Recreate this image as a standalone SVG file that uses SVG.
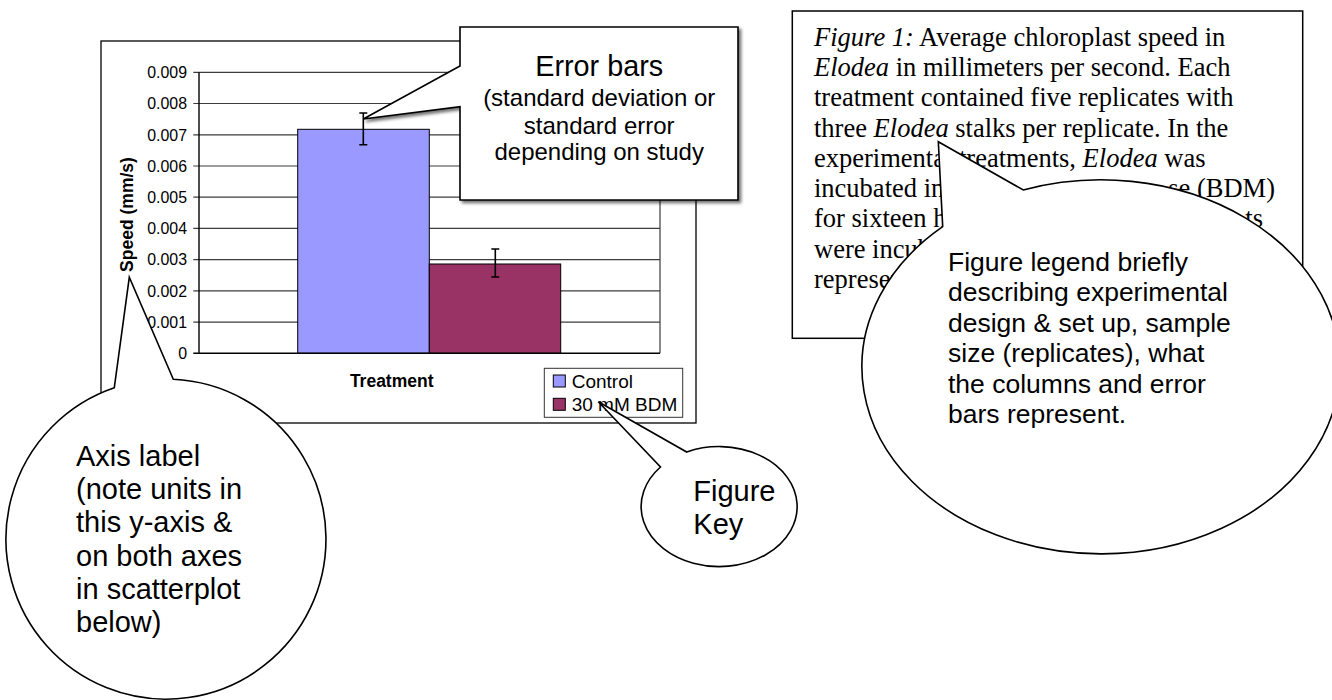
<svg xmlns="http://www.w3.org/2000/svg" width="1332" height="700" viewBox="0 0 1332 700">
<defs>
<style>
.sans{font-family:"Liberation Sans",Arial,sans-serif;fill:#000}
.serif{font-family:"Liberation Serif","Times New Roman",serif;fill:#000;font-size:26.5px}
.tick{font-size:15.9px;text-anchor:end}
.axis-title{font-size:17.5px;font-weight:bold}
.legend-text{font-size:19px}
.grid{stroke:#3c3c3c;stroke-width:1.2}
.err{stroke:#000;stroke-width:1.6;fill:none}
.bubble{fill:#fff;stroke:#000;stroke-width:1.6;stroke-linejoin:miter}
.note{font-size:29px}
.legend-note{font-size:26.5px}
</style>
<filter id="shadow" x="-10%" y="-10%" width="130%" height="130%">
<feDropShadow dx="2.5" dy="2.5" stdDeviation="1.8" flood-color="#000" flood-opacity="0.55"/>
</filter>
</defs>
<rect width="1332" height="700" fill="#fff"/>

<!-- bar chart -->
<g id="chart">
<rect x="101" y="41" width="595" height="382" fill="#fff" stroke="#000" stroke-width="1.3"/>
<g class="grid">
<line x1="193.3" y1="72.3" x2="660" y2="72.3"/>
<line x1="193.3" y1="103.5" x2="660" y2="103.5"/>
<line x1="193.3" y1="134.8" x2="660" y2="134.8"/>
<line x1="193.3" y1="166" x2="660" y2="166"/>
<line x1="193.3" y1="197.2" x2="660" y2="197.2"/>
<line x1="193.3" y1="228.4" x2="660" y2="228.4"/>
<line x1="193.3" y1="259.6" x2="660" y2="259.6"/>
<line x1="193.3" y1="290.9" x2="660" y2="290.9"/>
<line x1="193.3" y1="322.1" x2="660" y2="322.1"/>
<line x1="660" y1="72.3" x2="660" y2="353.3"/>
</g>
<rect x="297.7" y="129.3" width="131.6" height="224" fill="#9999ff" stroke="#000" stroke-width="1"/>
<rect x="429.3" y="264" width="131.4" height="89.3" fill="#993366" stroke="#000" stroke-width="1"/>
<g stroke="#000" stroke-width="1.4">
<line x1="199" y1="72.3" x2="199" y2="353.3"/>
<line x1="193.3" y1="353.3" x2="660" y2="353.3"/>
</g>
<path class="err" d="M363.3 113V144.7M359.3 113H367.3M359.3 144.7H367.3"/>
<path class="err" d="M495.3 249V277M491.3 249H499.3M491.3 277H499.3"/>
<g class="sans tick">
<text x="187" y="78">0.009</text>
<text x="187" y="109.2">0.008</text>
<text x="187" y="140.5">0.007</text>
<text x="187" y="171.7">0.006</text>
<text x="187" y="202.9">0.005</text>
<text x="187" y="234.1">0.004</text>
<text x="187" y="265.3">0.003</text>
<text x="187" y="296.6">0.002</text>
<text x="187" y="327.8">0.001</text>
<text x="187" y="359">0</text>
</g>
<text class="sans axis-title" text-anchor="middle" transform="translate(132.5 214.5) rotate(-90)">Speed (mm/s)</text>
<text class="sans axis-title" x="391.7" y="386.7" text-anchor="middle">Treatment</text>
<g id="chart-legend">
<rect x="544.3" y="368.3" width="138.4" height="49" fill="#fff" stroke="#333" stroke-width="1"/>
<rect x="553.3" y="375" width="12" height="12" fill="#9999ff" stroke="#000" stroke-width="1"/>
<rect x="553.3" y="398.3" width="12" height="12" fill="#993366" stroke="#000" stroke-width="1"/>
<text class="sans legend-text" x="571.7" y="387.7">Control</text>
<text class="sans legend-text" x="571.7" y="411">30 mM BDM</text>
</g>
</g>

<!-- figure caption -->
<g id="caption">
<rect x="792.3" y="11" width="510.4" height="327.3" fill="#fff" stroke="#000" stroke-width="1.5"/>
<text class="serif" x="814" y="45.7"><tspan font-style="italic">Figure 1:</tspan> Average chloroplast speed in</text>
<text class="serif" x="814" y="76"><tspan font-style="italic">Elodea</tspan> in millimeters per second. Each</text>
<text class="serif" x="814" y="106.2">treatment contained five replicates with</text>
<text class="serif" x="814" y="136.5">three <tspan font-style="italic">Elodea</tspan> stalks per replicate. In the</text>
<text class="serif" x="814" y="166.7">experimental treatments, <tspan font-style="italic">Elodea</tspan> was</text>
<text class="serif" x="814" y="197">incubated in</text>
<text class="serif" x="1275" y="197" text-anchor="end">se (BDM)</text>
<text class="serif" x="814" y="227.2">for sixteen h</text>
<text class="serif" x="1263" y="227.2" text-anchor="end">ts</text>
<text class="serif" x="814" y="257.5">were incub</text>
<text class="serif" x="814" y="287.7">represen</text>
</g>

<!-- callout: error bars -->
<g id="callout-error-bars">
<polygon class="bubble" filter="url(#shadow)" points="460,27 738,27 738,200 460,200 460,106.7 363.3,119 460,66"/>
<text class="sans" x="599.2" y="76" text-anchor="middle" font-size="28.8">Error bars</text>
<text class="sans" x="599.2" y="105.7" text-anchor="middle" font-size="24">(standard deviation or</text>
<text class="sans" x="599.2" y="133.5" text-anchor="middle" font-size="24">standard error</text>
<text class="sans" x="599.2" y="160" text-anchor="middle" font-size="24">depending on study</text>
</g>

<!-- callout: axis label -->
<g id="callout-axis-label">
<path class="bubble" d="M173.3 379.3A160 160 0 1 1 114.3 387.7L129.3 277.3Z"/>
<g class="sans note">
<text x="76" y="466">Axis label</text>
<text x="76" y="499.2">(note units in</text>
<text x="76" y="532.4">this y-axis &amp;</text>
<text x="76" y="565.5">on both axes</text>
<text x="76" y="598.6">in scatterplot</text>
<text x="76" y="631.7">below)</text>
</g>
</g>

<!-- callout: figure key -->
<g id="callout-figure-key">
<path class="bubble" d="M686.7 452A78 60 0 1 1 660.5 467L598.3 401.7Z"/>
<text class="sans note" x="693.3" y="501">Figure</text>
<text class="sans note" x="693.3" y="534">Key</text>
</g>

<!-- callout: figure legend -->
<g id="callout-figure-legend">
<path class="bubble" d="M1023.3 190A239 187 0 1 1 942.7 226.7L938.3 141.7Z"/>
<g class="sans legend-note">
<text x="948" y="270.7">Figure legend briefly</text>
<text x="948" y="301.2">describing experimental</text>
<text x="948" y="331.7">design &amp; set up, sample</text>
<text x="948" y="362.2">size (replicates), what</text>
<text x="948" y="392.7">the columns and error</text>
<text x="948" y="423.2">bars represent.</text>
</g>
</g>
</svg>
